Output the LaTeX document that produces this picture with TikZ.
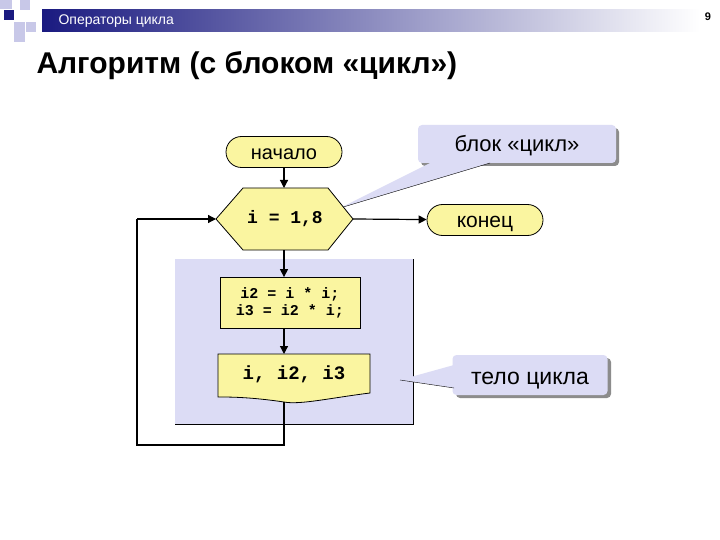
\documentclass[tikz,border=0pt]{standalone}
\usepackage{fontspec}
\setmainfont{Liberation Sans}
\setmonofont{Liberation Mono}
\usetikzlibrary{shapes.misc,arrows.meta}
\definecolor{yel}{HTML}{FAF5A0}
\definecolor{lav}{HTML}{DCDCF5}
\definecolor{navy}{HTML}{1A1A80}
\definecolor{sq}{HTML}{C8C8E8}
\tikzset{
  term/.style={draw,thick,fill=yel,rounded rectangle,minimum width=116pt,minimum height=31pt,inner sep=0pt},
  proc/.style={draw,thick,fill=yel,align=center,font=\ttfamily\bfseries\fontsize{15}{17}\selectfont},
  callout/.style={fill=lav,rounded corners=4pt,inner sep=0pt},
  flow/.style={very thick,-{Triangle[length=8pt,width=8pt]}},
  line/.style={very thick}
}
\begin{document}
\begin{tikzpicture}[x=1pt,y=-1pt]
\useasboundingbox (0,0) rectangle (720,540);
\fill[white] (0,0) rectangle (720,540);
% header squares
\fill[sq] (0,0) rectangle (12,9);
\fill[sq] (20,0) rectangle (30,10);
\fill[sq] (14,22) rectangle (25,42);
\fill[sq] (26,22) rectangle (36,32);
\fill[navy] (4,10) rectangle (14,20);
\shade[left color=navy,right color=white] (42,10) rectangle (700,32);
\node[anchor=west,text=white,font=\fontsize{14}{14}\selectfont] (hdr) at (55,21) {Операторы цикла};
\node[font=\bfseries\fontsize{11}{11}\selectfont] (pg) at (708,17) {9};
\node[anchor=west,font=\bfseries\fontsize{30}{30}\selectfont] (title) at (33,66) {Алгоритм (с блоком «цикл»)};
% body area
\fill[lav] (175,259) rectangle (413,424);
\draw[thick] (413,259) -- (413,424) -- (175,424);
% callouts
\fill[black!45,rounded corners=4pt] (421,128) rectangle (619,166);
\node[callout,minimum width=198pt,minimum height=38pt] (c1) at (517,144) {};
\node[font=\fontsize{22}{22}\selectfont,anchor=base] (c1t) at (517,152) {блок «цикл»};
\fill[lav] (340,208) -- (430,163) -- (490,163) -- cycle;
\draw[thin] (340,208) -- (490,163);
\fill[black!45,rounded corners=4pt] (456,358) rectangle (611,398);
\node[callout,minimum width=155pt,minimum height=40pt] (c2) at (530,375) {};
\node[font=\fontsize{23}{23}\selectfont,anchor=base] (c2t) at (530,384) {тело цикла};
\fill[lav] (400,380) -- (454,365) -- (454,388) -- cycle;
\draw[thin] (400,380) -- (454,388);
% nodes
\node[term] (start) at (284,152) {};
\node[font=\fontsize{20}{20}\selectfont,anchor=base] (startt) at (284,160) {начало};
\node[term] (end) at (485,220) {};
\node[font=\fontsize{21}{21}\selectfont,anchor=base] (endt) at (485,228) {конец};
\draw[thick,fill=yel] (216,219) -- (243,188) -- (328,188) -- (353,219) -- (328,250) -- (243,250) -- cycle;
\coordinate (hl) at (216,219);
\coordinate (hr) at (353,219);
\coordinate (hb) at (284,250);
\node[font=\ttfamily\bfseries\fontsize{18}{18}\selectfont] (hex) at (285,219) {i = 1,8};
\node[proc,minimum width=140pt,minimum height=51pt] (b1) at (290,303) {i2 = i * i;\\i3 = i2 * i;};
\draw[thick,fill=yel] (218,354) -- (370,354) -- (370,393) .. controls (330,398) and (300,405) .. (284,402) .. controls (250,397) and (230,397) .. (218,397) -- cycle;
\node[font=\ttfamily\bfseries\fontsize{19}{19}\selectfont] (b2) at (294,374) {i, i2, i3};
\coordinate (b2b) at (284,402);
\coordinate (l1) at (284,445);
\coordinate (l2) at (137,445);
\coordinate (l3) at (137,219);
% connectors
\draw[flow] (start) -- (284,188);
\draw[flow] (hb) -- (b1.north -| hb);
\draw[flow] (b1.south -| hb) -- (284,354);
\draw[flow] (hr) -- (end);
\draw[line] (b2b) -- (l1) -- (l2) -- (l3);
\draw[flow] (l3) -- (hl);
\end{tikzpicture}
\end{document}
